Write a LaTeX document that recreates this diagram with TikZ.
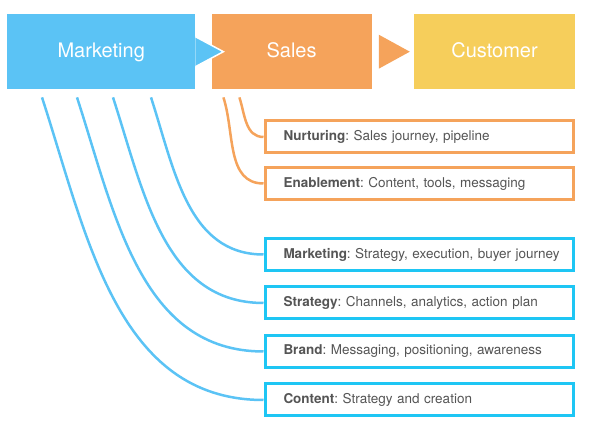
\documentclass[tikz,border=0pt]{standalone}
\usepackage{fontspec}
\setmainfont{TeX Gyre Heros}
\usetikzlibrary{positioning,calc}
\definecolor{mblue}{HTML}{5BC3F5}
\definecolor{sorange}{HTML}{F5A35B}
\definecolor{cyellow}{HTML}{F6CE5B}
\definecolor{lblue}{HTML}{1EC6F4}
\definecolor{tgrey}{HTML}{555555}
\tikzset{
  stage/.style  = {rectangle, minimum height=75pt, inner sep=0pt, text=white,
                   text height=14pt, text depth=2pt,
                   font=\fontsize{20}{24}\selectfont},
  topic/.style  = {rectangle, draw, line width=3pt, fill=white, text=tgrey,
                   text width=271pt, inner xsep=18.5pt, inner ysep=0pt,
                   minimum height=32pt, align=left,
                   font=\fontsize{13.5}{16}\selectfont\frenchspacing},
  sales topic/.style = {topic, draw=sorange},
  mkt topic/.style   = {topic, draw=lblue},
  link/.style   = {line width=2.5pt, out=-72, in=180}
}
\newcommand{\topictext}[2]{\mbox{\textbf{#1}: #2}}

\begin{document}
\begin{tikzpicture}[x=1pt, y=1pt]
\useasboundingbox (0,0) rectangle (590,443);

% the three stages along the top
\node[stage, fill=mblue, minimum width=188pt, anchor=north west] (marketing) at (7,429) {Marketing};
\node[stage, fill=sorange, minimum width=160pt, right=16pt of marketing] (sales) {Sales};
\node[stage, fill=cyellow, minimum width=161pt, right=42pt of sales] (customer) {Customer};

% arrow heads between the stages
\fill[mblue] ($(marketing.east)+(0,15)$) -- ($(marketing.east)+(28,0)$) -- ($(marketing.east)+(0,-15)$) -- cycle;
\draw[white, line width=1.5pt] ($(marketing.east)+(0,15)$) -- ($(marketing.east)+(28,0)$) -- ($(marketing.east)+(0,-15)$);
\fill[sorange] ($(sales.east)+(7,17)$) -- ($(sales.east)+(38,0)$) -- ($(sales.east)+(7,-17)$) -- cycle;

% the topics, relatively positioned
\node[sales topic, anchor=west] (s1) at (263.5,306) {\topictext{Nurturing}{Sales journey, pipeline}};
\node[sales topic, below=11.5pt of s1] (s2) {\topictext{Enablement}{Content, tools, messaging}};

\node[mkt topic, below=36pt of s2] (m1) {\topictext{Marketing}{Strategy, execution, buyer journey}};
\node[mkt topic, below=13.5pt of m1] (m2) {\topictext{Strategy}{Channels, analytics, action plan}};
\node[mkt topic, below=13.5pt of m2] (m3) {\topictext{Brand}{Messaging, positioning, awareness}};
\node[mkt topic, below=13.5pt of m3] (m4) {\topictext{Content}{Strategy and creation}};

% start points below the stages
\foreach \x [count=\i] in {144,106,70,35}
  \coordinate (mk\i) at ($(marketing.south west)+(\x,-8)$);
\foreach \x [count=\i] in {28,12}
  \coordinate (sl\i) at ($(sales.south west)+(\x,-8)$);

% lines from each stage to its topics
\foreach \i in {1,...,4}
  \draw[link, mblue] (mk\i) to (m\i.west);

\foreach \i in {1,2}
  \draw[link, sorange] (sl\i) to (s\i.west);
\end{tikzpicture}
\end{document}
